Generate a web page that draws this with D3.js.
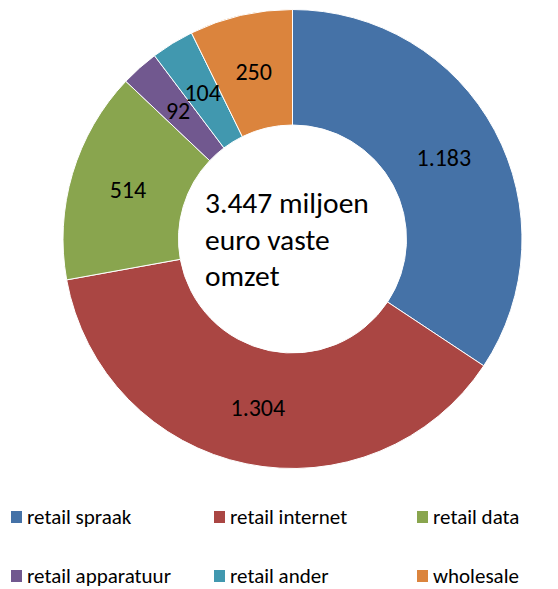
<!DOCTYPE html>
<meta charset="utf-8">
<script src="https://d3js.org/d3.v7.min.js"></script>
<style>
  body { margin: 0; background: #fff; }
  text { font-family: Calibri, Carlito, Lato, sans-serif; fill: #000; }
</style>
<div id="chart"></div>
<script>

// data
var categories = ["retail spraak", "retail internet", "retail data", "retail apparatuur", "retail ander", "wholesale"];
var values = [1183, 1304, 514, 92, 104, 250];
var labels = ["1.183", "1.304", "514", "92", "104", "250"];
var colors = ["#4572A7", "#AA4643", "#89A54E", "#71588F", "#4198AF", "#DB843D"];
var centerLines = ["3.447 miljoen", "euro vaste", "omzet"];

var width = 558, height = 589;
var cx = 292.5, cy = 239;
var outerR = 229.5, innerR = 114;

var svg = d3.select("#chart")
  .append("svg")
    .attr("width", width)
    .attr("height", height);

var g = svg.append("g")
  .attr("transform", "translate(" + cx + "," + cy + ")");

var pie = d3.pie().sort(null).value(function(d) { return d; });
var arc = d3.arc().innerRadius(innerR).outerRadius(outerR);
var arcs = pie(values);

g.selectAll("path")
  .data(arcs)
  .enter()
  .append("path")
    .attr("d", arc)
    .attr("fill", function(d, i) { return colors[i]; })
    .attr("stroke", "#fff")
    .attr("stroke-width", 1);

// value labels in the middle of the ring
g.selectAll("text.val")
  .data(arcs)
  .enter()
  .append("text")
    .attr("class", "val")
    .attr("transform", function(d) { return "translate(" + arc.centroid(d) + ")"; })
    .attr("text-anchor", "middle")
    .attr("dy", "0.35em")
    .style("font-size", "24px")
    .text(function(d, i) { return labels[i]; });

// text in the hole
g.selectAll("text.center")
  .data(centerLines)
  .enter()
  .append("text")
    .attr("class", "center")
    .attr("x", 205 - cx)
    .attr("y", function(d, i) { return 213 - cy + i * 36.5; })
    .style("font-size", "29.5px")
    .text(function(d) { return d; });

// legend, 3 columns x 2 rows
var legend = svg.selectAll("g.legend")
  .data(categories)
  .enter()
  .append("g")
    .attr("class", "legend")
    .attr("transform", function(d, i) {
      return "translate(" + (11 + (i % 3) * 203) + "," + (511 + Math.floor(i / 3) * 59) + ")";
    });

legend.append("rect")
  .attr("width", 11)
  .attr("height", 12)
  .attr("fill", function(d, i) { return colors[i]; });

legend.append("text")
  .attr("x", 16)
  .attr("y", 12.5)
  .style("font-size", "21px")
  .text(function(d) { return d; });

</script>
